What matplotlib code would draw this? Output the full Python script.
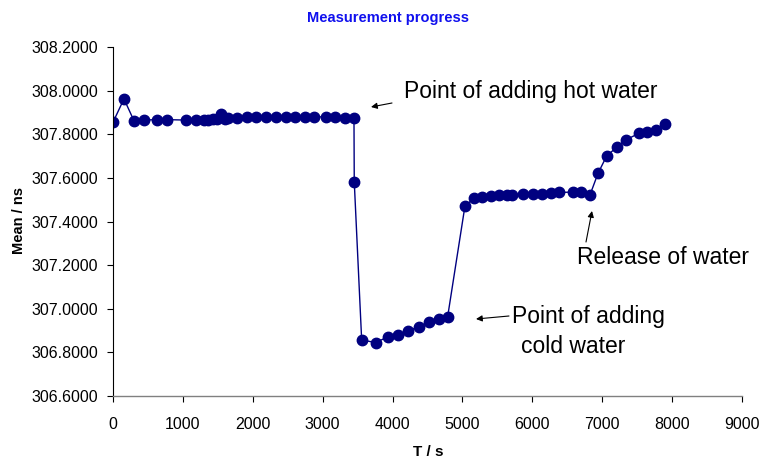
import matplotlib
matplotlib.use("Agg")
import matplotlib.pyplot as plt

plt.rcParams['font.family'] = ['Liberation Sans', 'DejaVu Sans']

time_s = [0, 157, 300, 448, 625, 768, 1044, 1187, 1302, 1364, 1435, 1483, 1541, 1602,
          1650, 1770, 1912, 2046, 2189, 2328, 2470, 2604, 2747, 2880, 3047, 3176, 3319,
          3448, 3452, 3558, 3758, 3939, 4073, 4216, 4378, 4521, 4664, 4788, 5036, 5164,
          5283, 5408, 5527, 5632, 5704, 5870, 6013, 6133, 6266, 6385, 6576, 6695, 6824,
          6940, 7063, 7215, 7335, 7525, 7644, 7768, 7897]
mean_ns = [307.855, 307.962, 307.862, 307.865, 307.867, 307.867, 307.865, 307.865, 307.866,
           307.867, 307.868, 307.872, 307.893, 307.870, 307.876, 307.876, 307.878, 307.878,
           307.878, 307.878, 307.878, 307.878, 307.879, 307.879, 307.880, 307.878, 307.876,
           307.876, 307.582, 306.857, 306.845, 306.872, 306.879, 306.898, 306.918, 306.938,
           306.953, 306.963, 307.471, 307.506, 307.514, 307.517, 307.520, 307.521, 307.521,
           307.526, 307.528, 307.528, 307.531, 307.533, 307.535, 307.533, 307.521, 307.621,
           307.700, 307.743, 307.774, 307.804, 307.812, 307.819, 307.846]

x_ticks = [0, 1000, 2000, 3000, 4000, 5000, 6000, 7000, 8000, 9000]
y_ticks = [306.6, 306.8, 307.0, 307.2, 307.4, 307.6, 307.8, 308.0, 308.2]

title = "Measurement progress"
x_label = "T / s"
y_label = "Mean / ns"

W, H = 762, 461
fig = plt.figure(figsize=(W / 100, H / 100), dpi=100)
ax = fig.add_axes([113 / W, 1 - 396 / H, (742 - 113) / W, (396 - 47) / H])

ax.plot(time_s, mean_ns, color='#000080', lw=1.0, marker='o', markersize=7.5,
        markerfacecolor='#000080', markeredgecolor='#000080')

ax.set_xlim(0, 9000)
ax.set_ylim(306.6, 308.2)
ax.set_xticks(x_ticks)
ax.set_yticks(y_ticks)
ax.set_xticklabels([str(v) for v in x_ticks], fontsize=11.5)
ax.set_yticklabels([f"{v:.4f}" for v in y_ticks], fontsize=11.5)
ax.tick_params(axis='both', direction='out', length=4, width=0.8, color='black', pad=7)
ax.tick_params(axis='x', pad=11)

for s in ['top', 'right']:
    ax.spines[s].set_visible(False)
ax.spines['left'].set_color('black')
ax.spines['left'].set_linewidth(0.8)
ax.spines['bottom'].set_color('#808080')
ax.spines['bottom'].set_linewidth(1.0)

fig.text(388 / W, 1 - 18 / H, title, color='#1010ee', fontsize=10.5, fontweight='bold',
         ha='center', va='center')
fig.text(428 / W, 1 - 452 / H, x_label, fontsize=11, fontweight='bold', ha='center', va='center')
fig.text(19 / W, 1 - 221 / H, y_label, fontsize=10.5, fontweight='bold', ha='center', va='center',
         rotation=90)

def fp(px, py):
    return (px / W, 1 - py / H)

arrow = dict(arrowstyle='-|>', color='black', lw=0.8, mutation_scale=9, shrinkA=0, shrinkB=0)
ax.annotate("", xy=fp(371, 107), xytext=fp(392, 103), xycoords='figure fraction',
            textcoords='figure fraction', arrowprops=arrow)
fig.text(404 / W, 1 - 91 / H, "Point of adding hot water", fontsize=16.5, ha='left', va='center')

ax.annotate("", xy=fp(476, 319), xytext=fp(509, 316), xycoords='figure fraction',
            textcoords='figure fraction', arrowprops=arrow)
fig.text(512 / W, 1 - 316 / H, "Point of adding", fontsize=16.5, ha='left', va='center')
fig.text(521 / W, 1 - 346 / H, "cold water", fontsize=16.5, ha='left', va='center')

ax.annotate("", xy=fp(592, 211), xytext=fp(586, 242), xycoords='figure fraction',
            textcoords='figure fraction', arrowprops=arrow)
fig.text(577 / W, 1 - 257 / H, "Release of water", fontsize=16.5, ha='left', va='center')

fig.savefig("out.png", dpi=100)
